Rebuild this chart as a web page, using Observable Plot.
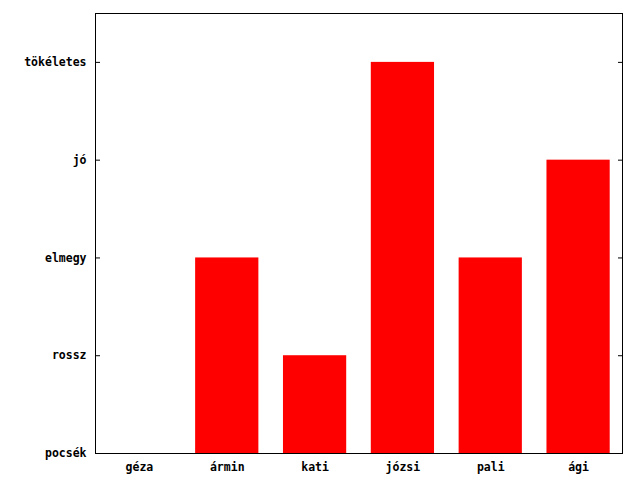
<!DOCTYPE html>
<html>
<head>
<meta charset="utf-8">
<script src="https://cdn.jsdelivr.net/npm/d3@7"></script>
<script src="https://cdn.jsdelivr.net/npm/@observablehq/plot@0.6"></script>
<style>
  html, body { margin: 0; padding: 0; background: #fff; }
</style>
</head>
<body>
<div id="chart"></div>
<script>
const names = ["géza", "ármin", "kati", "józsi", "pali", "ági"];
const scores = [0, 2, 1, 4, 2, 3];
const levels = ["pocsék", "rossz", "elmegy", "jó", "tökéletes"];

const data = names.map((name, i) => ({name, score: scores[i]}));
const levelTicks = levels.map((_, i) => i);

const chart = Plot.plot({
  width: 640,
  height: 480,
  marginLeft: 95,
  marginRight: 18,
  marginTop: 13,
  marginBottom: 27,
  style: {fontFamily: "'DejaVu Sans Mono', monospace", fontWeight: "bold", fontSize: "11.5px", color: "black", background: "white"},
  x: {domain: names, paddingInner: 0.28, paddingOuter: 0.14, round: false, axis: null},
  y: {domain: [0, 4.5], axis: null},
  marks: [
    Plot.barY(data, {x: "name", y: "score", fill: "#ff0000"}),
    Plot.frame({stroke: "black", strokeWidth: 1}),
    Plot.axisX({anchor: "bottom", tickSize: 0, tickPadding: 9, fill: "black", label: null}),
    Plot.axisY({anchor: "left", ticks: levelTicks, tickFormat: i => levels[i], tickSize: 0, tickPadding: 9, fill: "black", label: null}),
    Plot.axisY({anchor: "left", ticks: levelTicks, tickSize: 5, dx: 5, text: null, stroke: "black", label: null}),
    Plot.axisY({anchor: "right", ticks: levelTicks, tickSize: 5, dx: -5, text: null, stroke: "black", label: null})
  ]
});
document.getElementById("chart").appendChild(chart);
</script>
</body>
</html>
